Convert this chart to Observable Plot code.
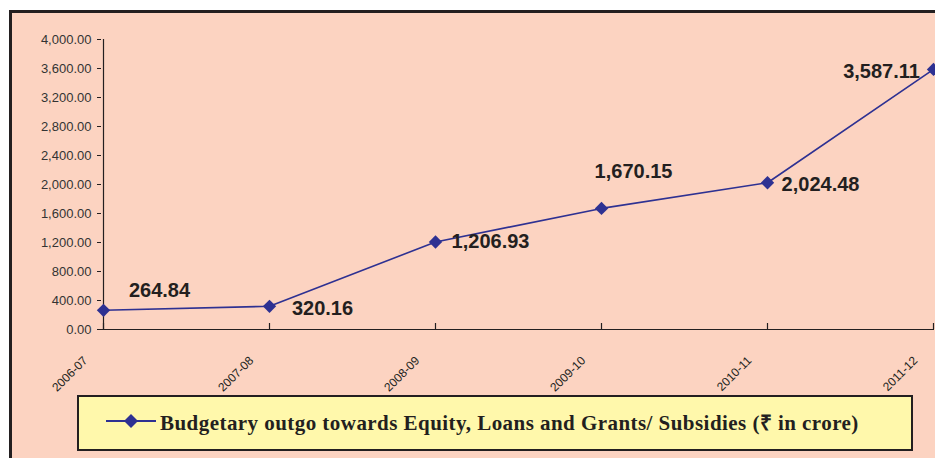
<!DOCTYPE html>
<html>
<head>
<meta charset="utf-8">
<script src="https://cdn.jsdelivr.net/npm/d3@7"></script>
<script src="https://cdn.jsdelivr.net/npm/@observablehq/plot@0.6"></script>
<style>
  html, body { margin: 0; padding: 0; background: #ffffff; overflow: hidden; }
  #page { position: relative; width: 935px; height: 458px; overflow: hidden; }
  #frame { position: absolute; left: 9px; top: 10px; width: 1000px; height: 500px;
           border: 3px solid #231f20; background: #fcd3c1; box-sizing: border-box; }
  #chart { position: absolute; left: 0; top: 0; }
  #legend { position: absolute; left: 77px; top: 395px; width: 836px; height: 56px;
            box-sizing: border-box; border: 2px solid #231f20; background: #fff8ab; }
  #legend svg { position: absolute; left: 25px; top: 14px; }
  #legend .lbl { position: absolute; left: 81px; top: 11px; white-space: nowrap;
                 font-family: "Liberation Serif", "Times New Roman", serif; font-weight: bold;
                 font-size: 21px; letter-spacing: 0.45px; color: #231f20; }
</style>
</head>
<body>
<div id="page">
  <div id="frame"></div>
  <div id="chart"></div>
  <div id="legend">
    <svg width="54" height="24"><line x1="2" y1="10" x2="52" y2="10" stroke="#2e3192" stroke-width="2"/><path d="M27,3L34,10L27,17L20,10Z" fill="#2e3192"/></svg>
    <span class="lbl">Budgetary outgo towards Equity, Loans and Grants/ Subsidies (₹ in crore)</span>
  </div>
</div>
<script>
const years = ["2006-07", "2007-08", "2008-09", "2009-10", "2010-11", "2011-12"];
const outgo = [264.84, 320.16, 1206.93, 1670.15, 2024.48, 3587.11];
const yTicks = [0, 400, 800, 1200, 1600, 2000, 2400, 2800, 3200, 3600, 4000];

// label offsets (layout only, pixels)
const labelOffsets = [[56, -20], [53, 2], [55, 0], [32, -37], [53, 2], [-52, 2]];

const data = years.map((y, i) => ({year: y, value: outgo[i]}));
const fmt = d3.format(",.2f");
const blue = "#2e3192";
const ink = "#231f20";

const labelMarks = data.map((d, i) => Plot.text([d], {
  x: "year", y: "value", text: dd => fmt(dd.value),
  dx: labelOffsets[i][0], dy: labelOffsets[i][1],
  fontSize: 20, fontWeight: "bold", fill: ink,
  fontFamily: "'Liberation Sans', Arial, sans-serif"
}));

const chart = Plot.plot({
  width: 935,
  height: 458,
  marginLeft: 101,
  marginRight: 1,
  marginTop: 39,
  marginBottom: 129,
  style: {background: "transparent", overflow: "visible", fontFamily: "'Liberation Sans', Arial, sans-serif", color: ink},
  x: {type: "point", domain: years, padding: 0, label: null},
  y: {domain: [0, 4000], label: null},
  marks: [
    Plot.axisY({ticks: yTicks, tickFormat: fmt, tickSize: 4, tickPadding: 6, fontSize: 13, stroke: ink, fill: "#333", label: null}),
    Plot.axisX({tickSize: 0, tickRotate: -45, tickPadding: 29, dx: -18, fontSize: 12, label: null,
                fontFamily: "'Liberation Sans Narrow', 'Arial Narrow', sans-serif", fill: ink,
                style: "letter-spacing:-0.6px"}),
    Plot.tickX(years, {x: d => d, insetTop: 284, stroke: ink, strokeWidth: 1.2}),
    Plot.ruleY([0], {stroke: ink, strokeWidth: 1.2}),
    Plot.ruleX([years[0]], {stroke: ink, strokeWidth: 1.2}),
    Plot.line(data, {x: "year", y: "value", stroke: blue, strokeWidth: 1.6}),
    Plot.dot(data, {x: "year", y: "value", symbol: "diamond2", r: 6, fill: blue, stroke: null}),
    ...labelMarks
  ]
});
document.getElementById("chart").appendChild(chart);
</script>
</body>
</html>
